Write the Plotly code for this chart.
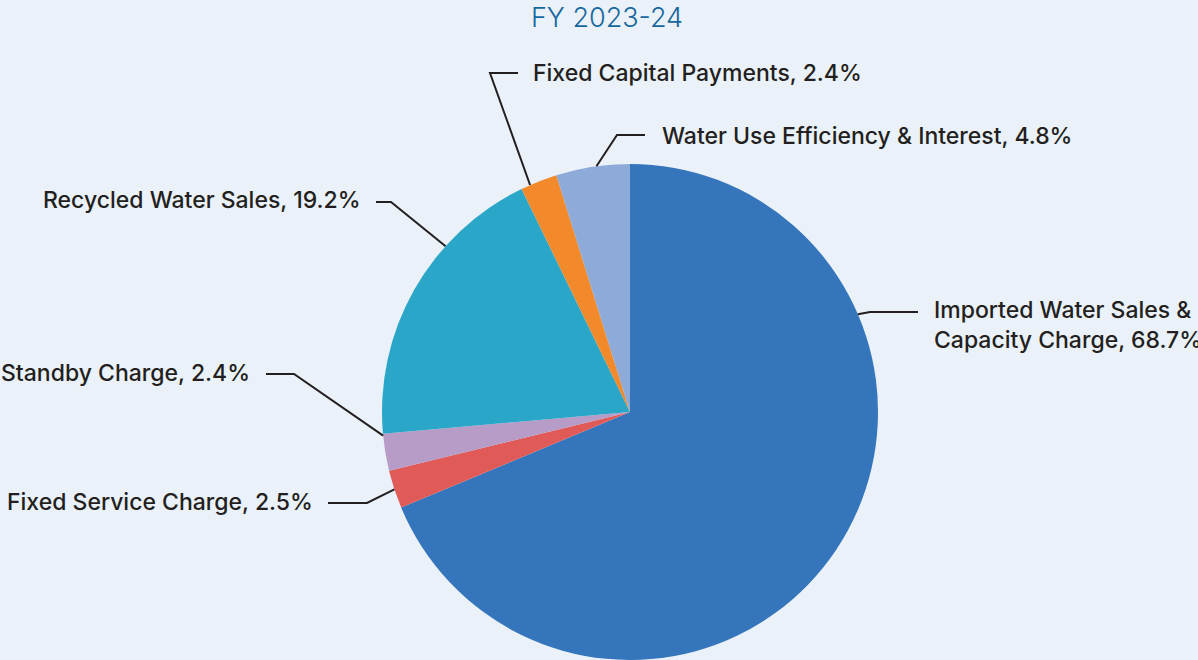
import math

import plotly.graph_objects as go

W, H = 1198, 660

labels = [
    "Imported Water Sales &<br>Capacity Charge",
    "Fixed Service Charge",
    "Standby Charge",
    "Recycled Water Sales",
    "Fixed Capital Payments",
    "Water Use Efficiency & Interest",
]
values = [68.7, 2.5, 2.4, 19.2, 2.4, 4.8]
colors = ["#3575bb", "#e05a57", "#b89cc8", "#2aa6c8", "#f28a2c", "#8eaad8"]

# pie geometry in pixels
CX, CY, R = 630, 412, 248
# where along each slice the leader touches (0..1), elbow point, label end
touch = [0.27, 0.5, 0.95, 0.68, 0.25, 0.55]
elbow = [(870, 312), (367, 503), (294, 374), (391, 202), (490, 73), (617, 135)]
tail = [(918, 312), (328, 503), (266, 374), (376, 202), (518, 73), (645, 135)]
label_pos = [(932, 325, "left"), (315, 502, "right"), (252, 373, "right"),
             (363, 200, "right"), (531, 73, "left"), (660, 136, "left")]

FONT = "Inter"


def px(x, y):
    return x / W, 1 - y / H


fig = go.Figure(
    go.Pie(
        labels=labels,
        values=values,
        marker={"colors": colors, "line": {"width": 0}},
        sort=False,
        direction="clockwise",
        rotation=0,
        textinfo="none",
        hoverinfo="label+percent",
        domain={"x": [(CX - R) / W, (CX + R) / W], "y": [1 - (CY + R) / H, 1 - (CY - R) / H]},
        showlegend=False,
    )
)

total = sum(values)
cum = 0
for i, v in enumerate(values):
    frac = (cum + v * touch[i]) / total
    cum += v
    ang = 2 * math.pi * frac
    ax, ay = CX + R * math.sin(ang), CY - R * math.cos(ang)
    pts = [px(ax, ay), px(*elbow[i]), px(*tail[i])]
    path = "M " + " L ".join(f"{x},{y}" for x, y in pts)
    fig.add_shape(type="path", path=path, xref="paper", yref="paper",
                  line={"color": "#231f20", "width": 2})
    lx, ly, side = label_pos[i]
    fx, fy = px(lx, ly)
    fig.add_annotation(
        x=fx, y=fy, xref="paper", yref="paper", showarrow=False,
        text=f"{labels[i]}, {v}%", xanchor=side, yanchor="middle", align="left",
        font={"family": FONT, "size": 23, "color": "#231f20", "weight": 500},
    )

fig.update_layout(
    width=W,
    height=H,
    paper_bgcolor="#eaf1f8",
    plot_bgcolor="#eaf1f8",
    margin={"l": 0, "r": 0, "t": 0, "b": 0},
    title={
        "text": "FY 2023-24",
        "x": 607 / W,
        "xanchor": "center",
        "y": 1 - 18 / H,
        "yanchor": "middle",
        "font": {"family": FONT, "size": 27, "color": "#17679f", "weight": 300},
    },
)

fig.write_html("out.html", config={"displayModeBar": False},
               post_script="document.body.style.margin='0';")
